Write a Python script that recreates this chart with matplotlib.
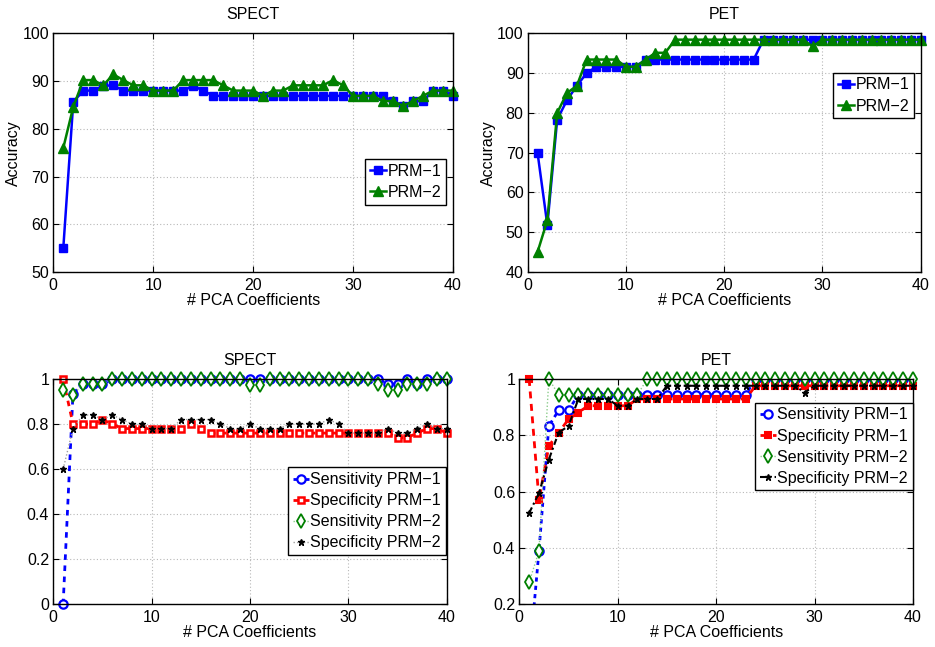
import numpy as np
import matplotlib
matplotlib.use("Agg")
import matplotlib.pyplot as plt
from matplotlib.ticker import FuncFormatter

plt.rcParams['font.family'] = ['Liberation Sans', 'DejaVu Sans']
plt.rcParams['font.size'] = 11.5

n_coeffs = np.arange(1, 41)

spect_prm1 = [55, 85.6, 88, 88, 89, 89.1, 88, 88, 88, 88,
              88, 88, 88, 89, 88, 86.9, 86.9, 86.9, 86.9, 86.9,
              86.9, 86.9, 86.9, 86.9, 86.9, 86.9, 86.9, 86.9, 86.9, 86.9,
              86.9, 86.9, 86.9, 85.8, 84.8, 85.8, 85.8, 88, 88, 86.9]
spect_prm2 = [76, 84.6, 90.2, 90.2, 89.1, 91.4, 90.2, 89.1, 89.1, 88,
              88, 88, 90.2, 90.2, 90.2, 90.2, 89.1, 88, 88, 88,
              86.9, 88, 88, 89.1, 89.1, 89.1, 89.1, 90.2, 89.1, 86.9,
              86.9, 86.9, 85.8, 85.8, 84.8, 85.8, 86.9, 88, 88, 88]

pet_prm1 = [70, 51.8, 78.3, 83.2, 86.8, 90, 91.6, 91.6, 91.6, 91.6,
            91.6, 93.4, 93.4, 93.4, 93.4, 93.4, 93.4, 93.4, 93.4, 93.4,
            93.4, 93.4, 93.4, 98.4, 98.4, 98.4, 98.4, 98.4, 98.4, 98.4,
            98.4, 98.4, 98.4, 98.4, 98.4, 98.4, 98.4, 98.4, 98.4, 98.4]
pet_prm2 = [45, 53, 80, 85, 86.8, 93.4, 93.4, 93.4, 93.4, 91.6,
            91.6, 93.4, 95.1, 95.1, 98.4, 98.4, 98.4, 98.4, 98.4, 98.4,
            98.4, 98.4, 98.4, 98.4, 98.4, 98.4, 98.4, 98.4, 96.7, 98.4,
            98.4, 98.4, 98.4, 98.4, 98.4, 98.4, 98.4, 98.4, 98.4, 98.4]

spect_sens1 = [0, 0.935, 0.978, 0.978, 0.978, 1, 1, 1, 1, 1,
               1, 1, 1, 1, 1, 1, 1, 1, 1, 1,
               1, 1, 1, 1, 1, 1, 1, 1, 1, 1,
               1, 1, 1, 0.978, 0.978, 1, 0.978, 1, 1, 1]
spect_spec1 = [1, 0.8, 0.8, 0.8, 0.82, 0.8, 0.78, 0.78, 0.78, 0.78,
               0.78, 0.78, 0.78, 0.8, 0.78, 0.76, 0.76, 0.76, 0.76, 0.76,
               0.76, 0.76, 0.76, 0.76, 0.76, 0.76, 0.76, 0.76, 0.76, 0.76,
               0.76, 0.76, 0.76, 0.76, 0.74, 0.74, 0.76, 0.78, 0.78, 0.76]
spect_sens2 = [0.951, 0.929, 0.978, 0.978, 0.978, 1, 1, 1, 1, 1,
               1, 1, 1, 1, 1, 1, 1, 1, 1, 0.973,
               0.973, 1, 1, 1, 1, 1, 1, 1, 1, 1,
               1, 1, 0.978, 0.951, 0.951, 0.978, 0.978, 0.978, 1, 1]
spect_spec2 = [0.6, 0.78, 0.84, 0.84, 0.82, 0.84, 0.82, 0.8, 0.8, 0.78,
               0.78, 0.78, 0.82, 0.82, 0.82, 0.82, 0.8, 0.78, 0.78, 0.8,
               0.78, 0.78, 0.78, 0.8, 0.8, 0.8, 0.8, 0.82, 0.8, 0.76,
               0.76, 0.76, 0.76, 0.78, 0.76, 0.76, 0.78, 0.8, 0.78, 0.78]

pet_sens1 = [0, 0.389, 0.833, 0.889, 0.889, 0.944, 0.944, 0.944, 0.944, 0.944,
             0.944, 0.944, 0.944, 0.944, 0.944, 0.944, 0.944, 0.944, 0.944, 0.944,
             0.944, 0.944, 0.944, 1, 1, 1, 1, 1, 1, 1,
             1, 1, 1, 1, 1, 1, 1, 1, 1, 1]
pet_spec1 = [1, 0.571, 0.762, 0.81, 0.857, 0.881, 0.905, 0.905, 0.905, 0.905,
             0.905, 0.929, 0.929, 0.929, 0.929, 0.929, 0.929, 0.929, 0.929, 0.929,
             0.929, 0.929, 0.929, 0.976, 0.976, 0.976, 0.976, 0.976, 0.976, 0.976,
             0.976, 0.976, 0.976, 0.976, 0.976, 0.976, 0.976, 0.976, 0.976, 0.976]
pet_sens2 = [0.278, 0.389, 1, 0.944, 0.944, 0.944, 0.944, 0.944, 0.944, 0.944,
             0.944, 0.944, 1, 1, 1, 1, 1, 1, 1, 1,
             1, 1, 1, 1, 1, 1, 1, 1, 1, 1,
             1, 1, 1, 1, 1, 1, 1, 1, 1, 1]
pet_spec2 = [0.524, 0.595, 0.714, 0.81, 0.833, 0.929, 0.929, 0.929, 0.929, 0.905,
             0.905, 0.929, 0.929, 0.929, 0.976, 0.976, 0.976, 0.976, 0.976, 0.976,
             0.976, 0.976, 0.976, 0.976, 0.976, 0.976, 0.976, 0.976, 0.952, 0.976,
             0.976, 0.976, 0.976, 0.976, 0.976, 0.976, 0.976, 0.976, 0.976, 0.976]

BLUE = (0, 0, 1)
GREEN = (0, 0.5, 0)
RED = (1, 0, 0)
LGREEN = (0.55, 0.8, 0.55)

fig = plt.figure(figsize=(9.35, 6.47), dpi=100)
W, H = 935.0, 647.0


def make_ax(l, t, r, b):
    return fig.add_axes([l / W, 1 - b / H, (r - l) / W, (b - t) / H])


def style(ax, ylim, yticks, title, ylabel=None, fmt=None):
    ax.set_xlim(0, 40)
    ax.set_ylim(*ylim)
    ax.set_xticks([0, 10, 20, 30, 40])
    ax.set_yticks(yticks)
    if fmt is not None:
        ax.yaxis.set_major_formatter(FuncFormatter(fmt))
    ax.grid(True, linestyle=(0, (1, 2)), color='#b8b8b8', linewidth=0.8)
    ax.set_axisbelow(True)
    ax.tick_params(direction='in', top=True, right=True, length=4, width=0.8,
                   labelsize=11.5, pad=3)
    ax.tick_params(axis='x', pad=4)
    for s in ax.spines.values():
        s.set_linewidth(1.0)
    ax.set_title(title, fontsize=11.5, pad=10)
    ax.set_xlabel('# PCA Coefficients', fontsize=11.5, labelpad=0)
    if ylabel:
        ax.set_ylabel(ylabel, fontsize=11.5, labelpad=1)


def leg(ax, anchor, **kw):
    lg = ax.legend(loc='upper right', bbox_to_anchor=anchor, borderaxespad=0,
                   fancybox=False, framealpha=1, edgecolor='black',
                   fontsize=11.5, handlelength=1.0, handletextpad=0.1,
                   labelspacing=0.38, borderpad=0.3, **kw)
    lg.get_frame().set_linewidth(1.0)
    return lg


def fmt01(v, p):
    if abs(v - round(v)) < 1e-9:
        return '%d' % round(v)
    return ('%.1f' % v)


# Top-left: SPECT accuracy
ax1 = make_ax(53.3, 33.3, 453, 272)
ax1.plot(n_coeffs, spect_prm1, '-s', color=BLUE, lw=1.8, ms=5.5, label='PRM\u22121', clip_on=False)
ax1.plot(n_coeffs, spect_prm2, '-^', color=GREEN, lw=1.8, ms=7, label='PRM\u22122', clip_on=False)
style(ax1, (50, 100), [50, 60, 70, 80, 90, 100], 'SPECT', 'Accuracy')
leg(ax1, (0.9825, 0.4734))

# Top-right: PET accuracy
ax2 = make_ax(527.7, 33.3, 920.7, 272)
ax2.plot(n_coeffs, pet_prm1, '-s', color=BLUE, lw=1.8, ms=5.5, label='PRM\u22121', clip_on=False)
ax2.plot(n_coeffs, pet_prm2, '-^', color=GREEN, lw=1.8, ms=7, label='PRM\u22122', clip_on=False)
style(ax2, (40, 100), [40, 50, 60, 70, 80, 90, 100], 'PET', 'Accuracy')
leg(ax2, (0.9837, 0.835))

# Bottom-left: SPECT sens/spec
ax3 = make_ax(53.3, 379, 446.7, 604.3)
ax3.plot(n_coeffs, spect_sens1, linestyle=(0, (2, 2)), marker='o', color=BLUE, lw=2,
         ms=6, mfc='white', mew=1.6, label='Sensitivity PRM\u22121', clip_on=False)
ax3.plot(n_coeffs, spect_spec1, linestyle=(0, (2, 2)), marker='s', color=RED, lw=2,
         ms=4.5, mfc='white', mew=1.8, label='Specificity PRM\u22121', clip_on=False)
ax3.plot(n_coeffs, spect_sens2, linestyle=(0, (1, 1.5)), marker='d', color=LGREEN, lw=1,
         ms=7, mfc='white', mec=GREEN, mew=1.3, label='Sensitivity PRM\u22122', clip_on=False)
ax3.plot(n_coeffs, spect_spec2, linestyle=(0, (1, 1.5)), marker='*', color='#a0a0a0', lw=1,
         ms=5, mfc='black', mec='black', label='Specificity PRM\u22122', clip_on=False)
style(ax3, (0, 1), [0, 0.2, 0.4, 0.6, 0.8, 1], 'SPECT', fmt=fmt01)
leg(ax3, (0.998, 0.608))

# Bottom-right: PET sens/spec
ax4 = make_ax(519.3, 379, 913, 604.3)
ax4.plot(n_coeffs, pet_sens1, linestyle=(0, (1.5, 1.5)), marker='o', color=BLUE, lw=2,
         ms=6, mfc='white', mew=1.6, label='Sensitivity PRM\u22121', clip_on=True)
ax4.plot(n_coeffs, pet_spec1, linestyle=(0, (2.5, 2)), marker='s', color=RED, lw=2,
         ms=4.5, mew=1.5, label='Specificity PRM\u22121', clip_on=False)
ax4.plot(n_coeffs, pet_sens2, linestyle=(0, (1, 1.5)), marker='d', color=LGREEN, lw=1,
         ms=7, mfc='white', mec=GREEN, mew=1.3, label='Sensitivity PRM\u22122', clip_on=False)
ax4.plot(n_coeffs, pet_spec2, linestyle=(0, (3, 1.5, 1, 1.5)), marker='*', color='black', lw=1.5,
         ms=5, mfc='black', mec='black', label='Specificity PRM\u22122', clip_on=False)
style(ax4, (0.2, 1), [0.2, 0.4, 0.6, 0.8, 1], 'PET', fmt=fmt01)
leg(ax4, (0.999, 0.895))

fig.savefig('out.png', dpi=100)
